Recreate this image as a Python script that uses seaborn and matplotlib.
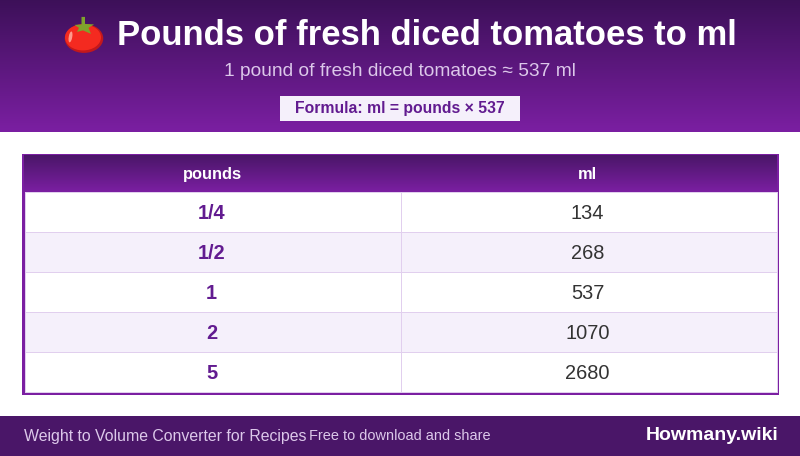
import matplotlib
matplotlib.use('Agg')
import matplotlib.pyplot as plt
from matplotlib.colors import LinearSegmentedColormap, ListedColormap
from matplotlib.patches import Ellipse, Polygon, Rectangle
import numpy as np
import pandas as pd
import seaborn as sns

title = 'Pounds of fresh diced tomatoes to ml'
subtitle = '1 pound of fresh diced tomatoes ≈ 537 ml'
formula = 'Formula: ml = pounds × 537'
col_names = ['pounds', 'ml']
pounds = ['1/4', '1/2', '1', '2', '5']
ml = [134, 268, 537, 1070, 2680]
footer_left = 'Weight to Volume Converter for Recipes'
footer_mid = 'Free to download and share'
brand = 'Howmany.wiki'

PURPLE = '#7b1fa2'
DARK = '#3c1058'
TEXT = '#621b90'
ZEBRA = '#f5f0fb'
LINE = '#e1cfee'
FOOT = '#4a1668'
SOFT = '#dcc8ea'


def px(size):
    return size * 0.72


def gradient(ax, x0, x1, y0, y1, c0, c1):
    cmap = LinearSegmentedColormap.from_list('g', [c0, c1])
    ax.imshow(np.linspace(0, 1, 256).reshape(-1, 1), cmap=cmap, aspect='auto',
              extent=(x0, x1, y1, y0), zorder=1, interpolation='bilinear')


def tomato(ax):
    ax.add_patch(Ellipse((84, 38.5), 38.5, 29, color='#c2181c', lw=0, zorder=3))
    ax.add_patch(Ellipse((83, 37.5), 36, 26, color='#f42a20', lw=0, zorder=4))
    ax.add_patch(Ellipse((70.5, 37), 3.5, 11, angle=10, color='#ff9a8c', lw=0, zorder=5))
    ax.add_patch(Polygon([(81.5, 17), (85, 17), (85, 24), (94, 24.5), (88.5, 28), (91, 34),
                          (83, 30.5), (77, 32), (79, 28), (74.5, 25), (81.5, 24.5)],
                         color='#7fa32c', lw=0, zorder=6))


sns.set_theme(style='white')
plt.rcParams['font.family'] = ['Liberation Sans', 'DejaVu Sans']

fig = plt.figure(figsize=(8, 4.561), dpi=100, facecolor='white')
ax = fig.add_axes([0, 0, 1, 1])

# header band, table frame and footer
gradient(ax, 0, 800, 0, 132, DARK, PURPLE)
ax.add_patch(Rectangle((22, 154), 757, 241, color=PURPLE, lw=0, zorder=1))
gradient(ax, 24, 777, 156, 192, '#4a1668', PURPLE)
ax.add_patch(Rectangle((0, 416), 800, 40, color=FOOT, lw=0, zorder=1))
ax.add_patch(Rectangle((280, 96), 240, 25, color=ZEBRA, lw=0, zorder=2))
ax.set_xlim(0, 800)
ax.set_ylim(456, 0)
ax.axis('off')

tomato(ax)
ax.text(427, 35, title, color='white', fontsize=px(34.6), fontweight='bold', ha='center', va='center', zorder=5)
ax.text(400, 71, subtitle, color=SOFT, fontsize=px(19.2), ha='center', va='center', zorder=5)
ax.text(400, 108, formula, color=TEXT, fontsize=px(15.8), fontweight='bold', ha='center', va='center', zorder=5)
ax.text(212, 174.5, col_names[0], color='white', fontsize=px(16.5), fontweight='bold', ha='center', va='center', zorder=5)
ax.text(587.5, 174.5, col_names[1], color='white', fontsize=px(16.5), fontweight='bold', ha='center', va='center', zorder=5)
ax.text(24, 436, footer_left, color=SOFT, fontsize=px(15.95), ha='left', va='center', zorder=5)
ax.text(309, 436, footer_mid, color=SOFT, fontsize=px(14.5), ha='left', va='center', zorder=5)
ax.text(778.5, 435, brand, color='white', fontsize=px(19.45), fontweight='bold', ha='right', va='center', zorder=5)

# table body as a heatmap of the zebra rows
body = fig.add_axes([24.5 / 800, 1 - 392.5 / 456, 752 / 800, 200 / 456])
zebra = pd.DataFrame({'pounds': [i % 2 for i in range(len(pounds))],
                      'ml': [i % 2 for i in range(len(ml))]})
sns.heatmap(zebra, ax=body, cmap=ListedColormap(['white', ZEBRA]), vmin=0, vmax=1, cbar=False,
            linewidths=0.72, linecolor=LINE, xticklabels=False, yticklabels=False)
body.collections[0].set_clip_on(False)
for i, (p, m) in enumerate(zip(pounds, ml)):
    body.text(0.498, i + 0.525, p, color=TEXT, fontsize=px(20), fontweight='bold', ha='center', va='center')
    body.text(1.498, i + 0.525, str(m), color='#333333', fontsize=px(20), ha='center', va='center')

fig.savefig('out.png', dpi=100, facecolor='white')
